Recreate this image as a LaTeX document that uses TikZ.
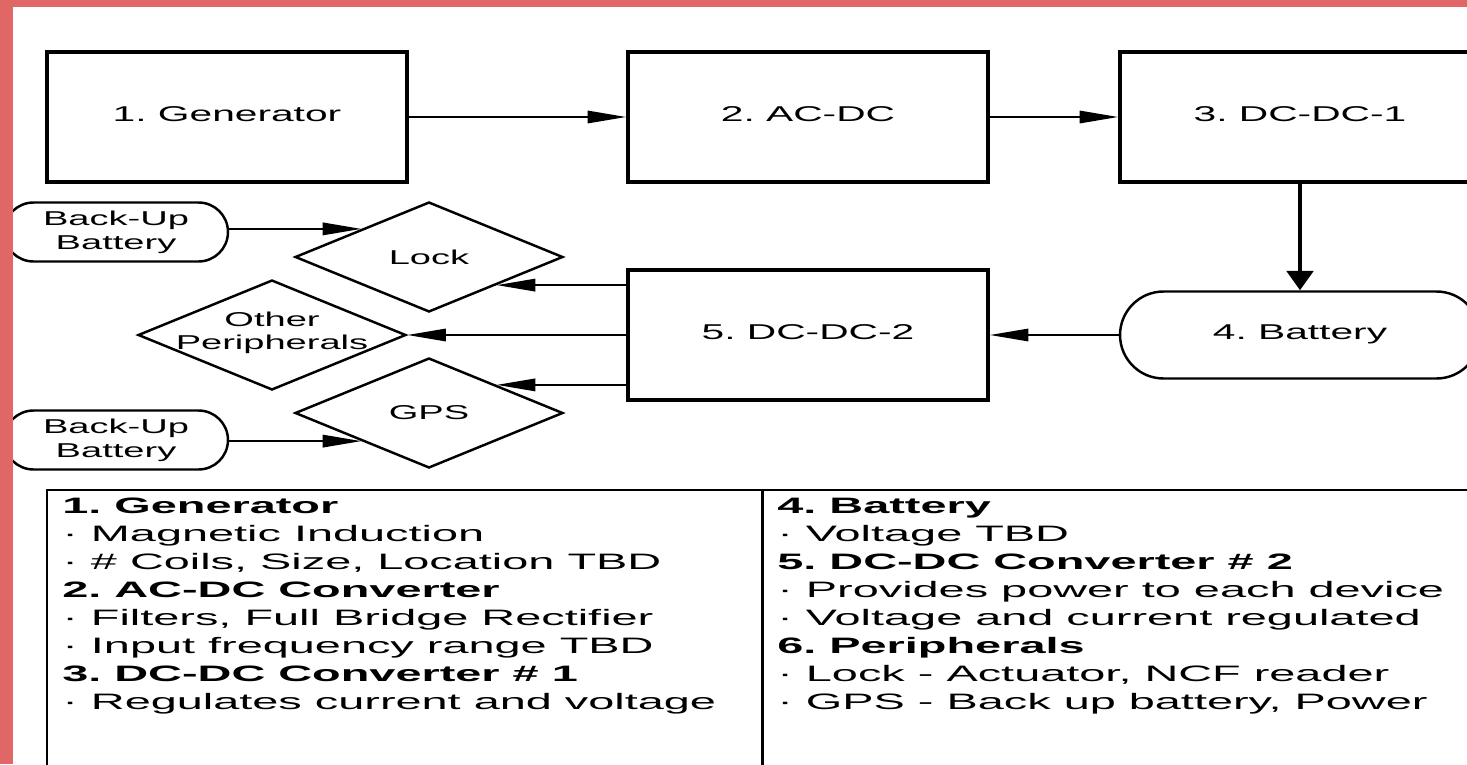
\documentclass[tikz,border=0pt]{standalone}
\usepackage{fontspec}
\setmainfont{Liberation Sans}
\newfontfamily\lblfont[FakeStretch=1.9]{Liberation Sans}
\newfontfamily\notefont[FakeStretch=2.1]{Liberation Sans}
\usetikzlibrary{shapes.geometric,arrows.meta,calc}
\definecolor{edgeband}{RGB}{225,103,103}
\frenchspacing

\tikzset{
  block/.style={draw, line width=2pt, minimum width=7.2cm, minimum height=2.6cm,
    font=\lblfont\fontsize{12.2}{14}\selectfont, text depth=0.12cm},
  store/.style={draw, line width=1.4pt, rounded corners=0.87cm, minimum width=7.2cm,
    minimum height=1.74cm, font=\lblfont\fontsize{12.2}{14}\selectfont, text depth=0.12cm},
  backup/.style={draw, line width=1.4pt, rounded corners=0.59cm, minimum width=4.48cm,
    minimum height=1.18cm, align=center, font=\lblfont\fontsize{11.4}{13.7}\selectfont},
  periph/.style={diamond, draw, line width=1.4pt, inner sep=0pt, minimum width=5.36cm,
    minimum height=2.2cm, align=center, font=\lblfont\fontsize{11.4}{13.1}\selectfont},
  link/.style={line width=1.3pt, -{Triangle[length=22pt,width=7pt]}},
  feed/.style={line width=2.3pt, -{Triangle[length=11pt,width=15pt]}},
  note/.style={anchor=base west, inner sep=0pt, font=\notefont\fontsize{12.7}{16}\selectfont}
}

\begin{document}
\begin{tikzpicture}[x=0.02cm, y=-0.02cm]
  \useasboundingbox (0,0) rectangle (1467,764);
  \clip (0,0) rectangle (1467,764);

  % power chain
  \node[block] (gen)   at (227,117)  {1. Generator};
  \node[block] (acdc)  at (808,117)  {2. AC-DC};
  \node[block] (dcone) at (1300,117) {3. DC-DC-1};
  \node[store] (bat)   at (1300,335) {4. Battery};
  \node[block] (dctwo) at (808,335)  {5. DC-DC-2};

  % loads
  \node[periph] (lock)  at (429,257) {Lock};
  \node[periph] (other) at (272,335) {};
  \node[periph] (gps)   at (429,413) {GPS};
  \node[align=center, inner sep=0pt, font=\lblfont\fontsize{11.4}{13.1}\selectfont]
    (otherlbl) at (272,333) {Other\\Peripherals};
  \node[backup] (bbone) at (116,232) {Back-Up\\Battery};
  \node[backup] (bbtwo) at (116,440) {Back-Up\\Battery};

  \coordinate (lock-l) at ($(lock.west)!0.5!(lock.north)$);
  \coordinate (lock-r) at ($(lock.east)!0.5!(lock.south)$);
  \coordinate (gps-l) at ($(gps.west)!0.5!(gps.south)$);
  \coordinate (gps-r) at ($(gps.east)!0.5!(gps.north)$);

  \draw[link] (gen) -- (acdc);
  \draw[link] (acdc) -- (dcone);
  \draw[feed] (dcone) -- (bat);
  \draw[link] (bat) -- (dctwo);
  \draw[link] (dctwo.west |- lock-r) -- (lock-r);
  \draw[link] (dctwo) -- (other);
  \draw[link] (dctwo.west |- gps-r) -- (gps-r);
  \draw[link] (bbone.east |- lock-l) -- (lock-l);
  \draw[link] (bbtwo.east |- gps-l) -- (gps-l);

  % notes table
  \draw[line width=1.7pt] (47,780) -- (47,490) -- (1480,490);
  \draw[line width=1.7pt] (762,490) -- (762,780);
  \foreach \txt [count=\i from 0] in {{\bfseries 1. Generator}, {· Magnetic Induction},
      {· \# Coils, Size, Location TBD}, {\bfseries 2. AC-DC Converter},
      {· Filters, Full Bridge Rectifier}, {· Input frequency range TBD},
      {\bfseries 3. DC-DC Converter \# 1}, {· Regulates current and voltage}}
    \node[note] (left\i) at (62,513+28.1*\i) {\txt};
  \foreach \txt [count=\i from 0] in {{\bfseries 4. Battery}, {· Voltage TBD},
      {\bfseries 5. DC-DC Converter \# 2}, {· Provides power to each device},
      {· Voltage and current regulated}, {\bfseries 6. Peripherals},
      {· Lock - Actuator, NCF reader}, {· GPS - Back up battery, Power}}
    \node[note] (right\i) at (777,513+28.1*\i) {\txt};

  % frame bands
  \fill[edgeband] (0,0) rectangle (1467,7);
  \fill[edgeband] (0,0) rectangle (13,764);
\end{tikzpicture}
\end{document}
